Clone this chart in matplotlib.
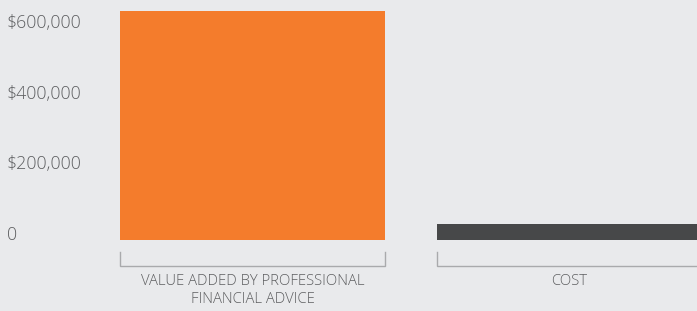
import matplotlib
matplotlib.use("Agg")
from matplotlib import pyplot as plt
from matplotlib.transforms import blended_transform_factory

categories = ["VALUE ADDED BY PROFESSIONAL\nFINANCIAL ADVICE", "COST"]
values = [648000, 45000]
colors = ["#F47C2C", "#474849"]
tick_values = [0, 200000, 400000, 600000]
tick_labels = ["0", "$200,000", "$400,000", "$600,000"]

bg = "#E9EAEC"
text_color = "#5E5F61"
font = "Open Sans"

W, H = 697, 311
fig = plt.figure(figsize=(W / 100, H / 100), dpi=100, facecolor=bg)
ax = fig.add_axes([0, 0, 1, 1])
ax.set_facecolor(bg)

# pixel layout: zero line at y=240, 600k at y=28; bars centred at 252.5 and 569.5
px_per_val = 212 / 600000
ax.set_ylim(-(H - 240) / px_per_val, 240 / px_per_val)
ax.set_xlim(-252.5 / 317, (W - 252.5) / 317)
for s in ax.spines.values():
    s.set_visible(False)
ax.set_xticks([])
ax.set_yticks([])

width = 265 / 317
x = list(range(len(categories)))
ax.bar(x, values, width=width, color=colors, zorder=2)

# y labels
trans = blended_transform_factory(ax.transAxes, ax.transData)
for v, lab in zip(tick_values, tick_labels):
    ax.text(7 / W, v, lab, transform=trans, ha="left", va="baseline",
            fontsize=12.8, color=text_color, family=font, fontweight="light")

# brackets and category labels under bars
def px2val(p):
    return -(p - 240) / px_per_val

for xi, cat in zip(x, categories):
    x0, x1 = xi - width / 2, xi + width / 2
    ax.plot([x0, x0, x1, x1], [px2val(252), px2val(266), px2val(266), px2val(252)],
            color="#A9AAAC", lw=1, clip_on=True, solid_joinstyle="miter")
    ax.text(xi, px2val(274), cat, ha="center", va="top", fontsize=10.7,
            color=text_color, family=font, fontweight="light", linespacing=1.3)

fig.savefig("out.png", dpi=100, facecolor=bg)
